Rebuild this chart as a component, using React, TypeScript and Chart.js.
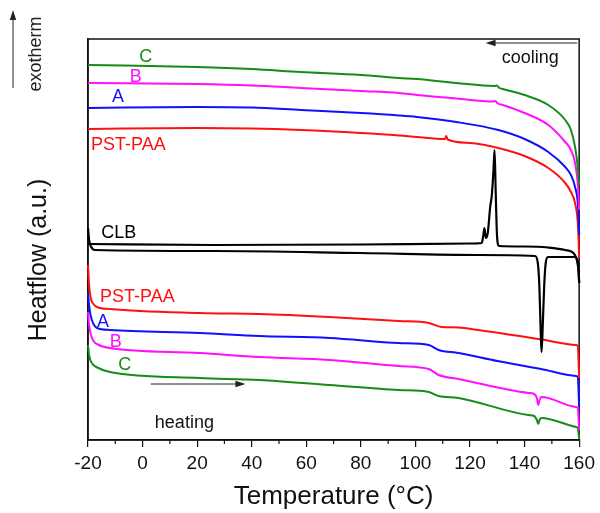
import React, { useEffect, useRef } from 'react';
import { Chart, registerables } from 'chart.js';

Chart.register(...registerables);

const FONT = '"Liberation Sans", Arial, Helvetica, sans-serif';
const RED = '#ff1010';
const BLUE = '#1010ff';
const MAGENTA = '#ff10ff';
const GREEN = '#178c17';
const BLACK = '#000000';

// Temperature axis (°C)
const xMin = -20;
const xMax = 160;
const xStep = 20;
const minorTicks = [-10, 10, 30, 50, 70, 90, 110, 130, 150];

// ---- cooling runs (upper group) : temperature / heat flow (a.u.) ----
const redCoolT = [-20, 20, 40, 58, 80, 94, 100.5, 110.8, 111.3, 111.8, 120, 130.4, 140, 148.7, 154.9, 157, 158.5, 159.6, 160];
const redCoolV = [311, 312, 311.5, 310, 307, 304.5, 303, 301, 304, 300.5, 297, 292, 284, 272, 257, 248, 237, 213, 182];

const blueCoolT = [-20, 20, 40, 58, 80, 94, 100.5, 115, 130.4, 140, 148.7, 154.9, 157, 158.5, 159.6, 160];
const blueCoolV = [332, 333, 332.5, 330, 327, 324.5, 323, 318, 310, 301, 288, 273, 265, 253, 233, 205];

const magCoolT = [-20, 20, 40, 58, 80, 94, 100.5, 115, 128.5, 129.3, 130.2, 132, 140, 148.7, 154.9, 157, 158.5, 159.6, 160];
const magCoolV = [357, 356, 354.5, 352, 349, 347, 345, 341.5, 338.5, 339, 336.5, 335, 327, 315, 298, 290, 277, 253, 230];

const greenCoolT = [-20, 20, 40, 58, 80, 94, 100.5, 115, 129, 129.8, 130.8, 132, 140, 148.7, 154.9, 157, 158.5, 159.6, 160];
const greenCoolV = [375, 373, 371, 368, 365, 362, 361, 357, 354, 354.5, 352, 351, 345, 335, 320, 310, 293, 270, 255];

// ---- CLB (pure compound) ----
const clbCoolT = [-20, 26, 80, 120, 124.3, 124.8, 125.3, 125.8, 126.5, 127.4, 128.0, 128.6, 129.0, 129.4, 129.8, 130.2, 130.6, 140, 148.7, 154.9, 157.9, 159, 159.7, 160];
const clbCoolV = [196, 195, 195.5, 196.5, 197, 203.3, 212, 202, 207, 233, 245, 270, 290, 250, 210, 196, 194, 193.5, 192.5, 190, 187, 182, 175, 157];

const clbHeatT = [-20, -19.6, -18.8, -17.5, 26, 80, 123, 143.8, 144.8, 145.4, 145.9, 146.2, 146.6, 147.2, 147.8, 148.6, 158.5, 159.3, 159.8, 160];
const clbHeatV = [212, 200, 193, 190, 189, 187, 185, 184, 178, 155, 110, 88, 110, 155, 178, 183, 183, 178, 168, 157];

// ---- heating runs (lower group) ----
const redHeatT = [-20, -19.6, -19.0, -18.0, -16.7, -12, 20.9, 42.8, 68.4, 93.9, 104.9, 109.6, 115.8, 123, 146.2, 158.9, 159.5, 160];
const redHeatV = [175, 155, 142, 136, 133, 131, 127, 126, 123, 119, 117, 113, 112.5, 110, 100.5, 95, 94, 62];

const blueHeatT = [-20, -19.6, -19.0, -18.0, -16.7, -12, 20.9, 42.8, 68.4, 93.9, 104.9, 108.5, 115.8, 130, 146, 158.9, 159.5, 160];
const blueHeatV = [148, 135, 124, 116, 112, 110, 107, 104, 102, 97, 95, 90, 87, 79, 71, 64, 63, 33];

const magHeatT = [-20, -19.6, -19.0, -18.0, -16, -12, 20.9, 42.8, 68.4, 93.9, 104.9, 108.5, 115.8, 141.4, 143.5, 144.5, 145.0, 145.5, 146.1, 158.9, 159.5, 160];
const magHeatV = [128, 115, 106, 99, 95, 92, 87, 83, 80, 74, 71, 65, 61, 47, 46, 42, 35, 40, 43, 33, 32, 10];

const greenHeatT = [-20, -19.6, -19.0, -18.0, -17, -12, 20.9, 42.8, 68.4, 93.9, 104.9, 108.5, 115.8, 141.4, 143.5, 144.5, 145.0, 145.5, 146.1, 158.9, 159.5, 160];
const greenHeatV = [95, 85, 79, 75, 73, 68, 62, 60, 55, 50, 48, 44, 42, 25, 24, 20, 16, 20, 22, 13, 12, 1];

// ---- in-plot labels (data coordinates) ----
const curveLabels = [
  { text: 'C', t: 1.2, v: 383, color: GREEN, align: 'center' },
  { text: 'B', t: -2.5, v: 363, color: MAGENTA, align: 'center' },
  { text: 'A', t: -9.0, v: 343, color: BLUE, align: 'center' },
  { text: 'PST-PAA', t: -18.9, v: 295, color: RED, align: 'left' },
  { text: 'CLB', t: -8.7, v: 207, color: BLACK, align: 'center' },
  { text: 'PST-PAA', t: -15.6, v: 143, color: RED, align: 'left' },
  { text: 'A', t: -14.5, v: 118, color: BLUE, align: 'center' },
  { text: 'B', t: -9.8, v: 98, color: MAGENTA, align: 'center' },
  { text: 'C', t: -6.5, v: 75, color: GREEN, align: 'center' },
  { text: 'heating', t: 4.5, v: 17, color: '#111', align: 'left' },
  { text: 'cooling', t: 142.1, v: 382, color: '#111', align: 'center' },
];
const heatingArrow = { t0: 3.0, t1: 37.7, v: 56 };
const coolingArrow = { t0: 159.3, t1: 125.7, v: 397 };

const yTitle = 'Heatflow (a.u.)';
const xTitle = 'Temperature (°C)';
const exoLabel = 'exotherm';

function arrowHead(ctx: CanvasRenderingContext2D, x: number, y: number, dx: number, dy: number) {
  const len = 10;
  const w = 3.2;
  const px = -dy, py = dx;
  ctx.beginPath();
  ctx.moveTo(x, y);
  ctx.lineTo(x - dx * len + px * w, y - dy * len + py * w);
  ctx.lineTo(x - dx * len - px * w, y - dy * len - py * w);
  ctx.closePath();
  ctx.fill();
}

const decorPlugin = {
  id: 'decor',
  beforeDatasetsDraw(chart: any) {
    const { ctx, chartArea } = chart;
    const xs = chart.scales.x;
    ctx.save();
    ctx.strokeStyle = '#111';
    ctx.lineWidth = 1.5;
    ctx.strokeRect(chartArea.left, chartArea.top, chartArea.right - chartArea.left, chartArea.bottom - chartArea.top);
    ctx.lineWidth = 1.2;
    minorTicks.forEach((t) => {
      const px = xs.getPixelForValue(t);
      ctx.beginPath();
      ctx.moveTo(px, chartArea.bottom);
      ctx.lineTo(px, chartArea.bottom + 4);
      ctx.stroke();
    });
    ctx.restore();
  },
  afterDraw(chart: any) {
    const { ctx, chartArea } = chart;
    const xs = chart.scales.x;
    const ys = chart.scales.y;
    ctx.save();
    ctx.font = `18px ${FONT}`;
    ctx.textBaseline = 'middle';
    curveLabels.forEach((l) => {
      ctx.fillStyle = l.color;
      ctx.textAlign = l.align as CanvasTextAlign;
      ctx.fillText(l.text, xs.getPixelForValue(l.t), ys.getPixelForValue(l.v));
    });
    // arrows
    ctx.strokeStyle = '#222';
    ctx.fillStyle = '#222';
    ctx.lineWidth = 1;
    {
      const y = ys.getPixelForValue(heatingArrow.v);
      const x0 = xs.getPixelForValue(heatingArrow.t0);
      const x1 = xs.getPixelForValue(heatingArrow.t1);
      ctx.beginPath();
      ctx.moveTo(x0, y);
      ctx.lineTo(x1 - 6, y);
      ctx.stroke();
      arrowHead(ctx, x1, y, 1, 0);
    }
    {
      const y = ys.getPixelForValue(coolingArrow.v);
      const x0 = xs.getPixelForValue(coolingArrow.t0);
      const x1 = xs.getPixelForValue(coolingArrow.t1);
      ctx.beginPath();
      ctx.moveTo(x0, y);
      ctx.lineTo(x1 + 6, y);
      ctx.stroke();
      arrowHead(ctx, x1, y, -1, 0);
    }
    // exotherm arrow and label (left of plot)
    {
      const x = chartArea.left - 75;
      const yBottom = chartArea.top + 49;
      const yTop = chartArea.top - 29;
      ctx.beginPath();
      ctx.moveTo(x, yBottom);
      ctx.lineTo(x, yTop + 6);
      ctx.stroke();
      arrowHead(ctx, x, yTop, 0, -1);
      ctx.save();
      ctx.translate(chartArea.left - 52, chartArea.top + 15);
      ctx.rotate(-Math.PI / 2);
      ctx.textAlign = 'center';
      ctx.fillStyle = '#222';
      ctx.fillText(exoLabel, 0, 0);
      ctx.restore();
    }
    // y axis title
    ctx.save();
    ctx.font = `25px ${FONT}`;
    ctx.fillStyle = '#111';
    ctx.translate(chartArea.left - 49, chartArea.top + 221);
    ctx.rotate(-Math.PI / 2);
    ctx.textAlign = 'center';
    ctx.textBaseline = 'middle';
    ctx.fillText(yTitle, 0, 0);
    ctx.restore();
    ctx.restore();
  },
};

function series(label: string, xs: number[], vs: number[], color: string, width: number) {
  return {
    label,
    data: xs.map((x, i) => ({ x, y: vs[i] })),
    borderColor: color,
    backgroundColor: color,
    borderWidth: width,
    pointRadius: 0,
    fill: false,
    cubicInterpolationMode: 'monotone' as const,
    clip: 4,
  };
}

export default function App() {
  const ref = useRef<HTMLCanvasElement>(null);
  useEffect(() => {
    if (!ref.current) return;
    const chart = new Chart(ref.current, {
      type: 'line',
      data: {
        datasets: [
          series('C cooling', greenCoolT, greenCoolV, GREEN, 2),
          series('B cooling', magCoolT, magCoolV, MAGENTA, 2),
          series('A cooling', blueCoolT, blueCoolV, BLUE, 2),
          series('PST-PAA cooling', redCoolT, redCoolV, RED, 2),
          series('CLB cooling', clbCoolT, clbCoolV, BLACK, 2.2),
          series('CLB heating', clbHeatT, clbHeatV, BLACK, 2.2),
          series('PST-PAA heating', redHeatT, redHeatV, RED, 2),
          series('A heating', blueHeatT, blueHeatV, BLUE, 2),
          series('B heating', magHeatT, magHeatV, MAGENTA, 2),
          series('C heating', greenHeatT, greenHeatV, GREEN, 2),
        ],
      },
      options: {
        responsive: false,
        animation: false,
        layout: { padding: { left: 0, top: 39, right: 19, bottom: 0 } },
        plugins: { legend: { display: false }, tooltip: { enabled: false } },
        scales: {
          x: {
            type: 'linear',
            min: xMin,
            max: xMax,
            ticks: { stepSize: xStep, color: '#111', font: { family: FONT, size: 19 }, padding: 5, maxRotation: 0 },
            grid: { drawOnChartArea: false, drawTicks: true, tickLength: 7, color: '#111', lineWidth: 1.2 },
            border: { display: true, color: '#111', width: 1.5 },
            title: { display: true, text: xTitle, color: '#111', font: { family: FONT, size: 26 }, padding: { top: 0, bottom: 1 } },
            afterFit: (scale: any) => { scale.height = 73; },
          },
          y: {
            type: 'linear',
            min: 0,
            max: 401,
            ticks: { display: false },
            grid: { display: false },
            border: { display: true, color: '#111', width: 1.5 },
            afterFit: (scale: any) => { scale.width = 88; },
          },
        },
      } as any,
      plugins: [decorPlugin],
    });
    return () => chart.destroy();
  }, []);
  return (
    <div style={{ position: 'absolute', left: 0, top: 0, width: 600, height: 513, background: '#fff' }}>
      <canvas ref={ref} width={600} height={513} />
    </div>
  );
}
